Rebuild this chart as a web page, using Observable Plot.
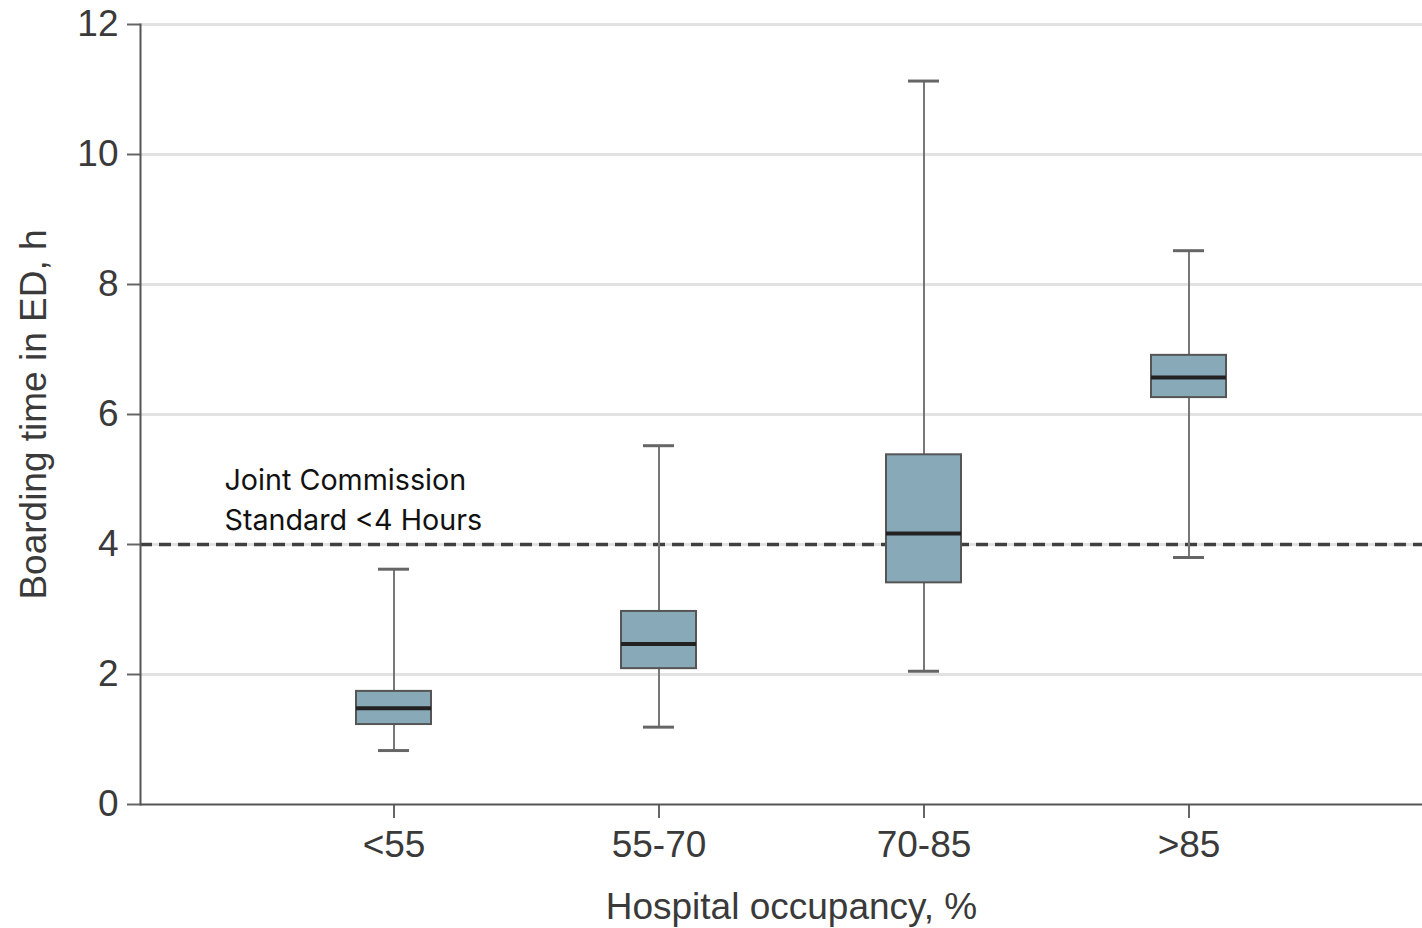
<!DOCTYPE html>
<html>
<head>
<meta charset="utf-8">
<script src="https://cdn.jsdelivr.net/npm/d3@7"></script>
<script src="https://cdn.jsdelivr.net/npm/@observablehq/plot@0.6"></script>
<style>
  html, body { margin: 0; padding: 0; background: #fff; }
  svg { display: block; }
</style>
</head>
<body>
<div id="chart"></div>
<script>
// Data
const categories = ["<55", "55-70", "70-85", ">85"];
const whiskerLow  = [0.83, 1.19, 2.05, 3.80];
const q1          = [1.23, 2.09, 3.41, 6.26];
const median      = [1.48, 2.47, 4.17, 6.57];
const q3          = [1.74, 2.97, 5.38, 6.91];
const whiskerHigh = [3.62, 5.52, 11.13, 8.52];
const yTicks = [0, 2, 4, 6, 8, 10, 12];
const standardHours = [4];
const annotation = ["Joint Commission\nStandard <4 Hours"];
const xTitle = ["Hospital occupancy, %"];
const yTitle = ["Boarding time in ED, h"];

const rows = categories.map((c, i) => ({
  cat: c, lo: whiskerLow[i], q1: q1[i], med: median[i], q3: q3[i], hi: whiskerHigh[i]
}));

const axisFont = "'Liberation Sans', Arial, sans-serif";
const textColor = "#3a3a3a";
const fs = 37;

const chart = Plot.plot({
  width: 1422,
  height: 928,
  marginLeft: 140,
  marginRight: 0,
  marginTop: 24,
  marginBottom: 124,
  style: { fontFamily: axisFont, color: textColor, background: "#fff" },
  x: { type: "band", domain: categories, range: [260.5, 1320.5], paddingInner: 0.717, paddingOuter: 0.3585, align: 0.5 },
  y: { domain: [0, 12] },
  marks: [
    // gridlines
    Plot.ruleY(yTicks.filter(d => d > 0), { stroke: "#e2e2e2", strokeWidth: 3 }),
    // standard line
    Plot.ruleY(standardHours, { stroke: "#404040", strokeWidth: 3.5, strokeDasharray: "12,7" }),
    // axes
    Plot.axisY({ ticks: yTicks, tickSize: 13, tickPadding: 9, fontSize: fs, label: null, stroke: "#666", strokeWidth: 2 }),
    Plot.axisX({ tickSize: 14, tickPadding: 12, fontSize: fs, label: null, stroke: "#666", strokeWidth: 2 }),
    Plot.frame({ anchor: "left", stroke: "#555", strokeWidth: 2 }),
    Plot.ruleY([0], { stroke: "#555", strokeWidth: 2 }),
    // whiskers
    Plot.ruleX(rows, { x: "cat", y1: "lo", y2: "hi", stroke: "#777", strokeWidth: 2 }),
    Plot.tickY(rows, { x: "cat", y: "lo", stroke: "#666", strokeWidth: 3, insetLeft: 22, insetRight: 22 }),
    Plot.tickY(rows, { x: "cat", y: "hi", stroke: "#666", strokeWidth: 3, insetLeft: 22, insetRight: 22 }),
    // boxes
    Plot.barY(rows, { x: "cat", y1: "q1", y2: "q3", fill: "#87a9b8", stroke: "#555", strokeWidth: 2 }),
    Plot.tickY(rows, { x: "cat", y: "med", stroke: "#222", strokeWidth: 4 }),
    // annotation
    Plot.text(annotation, {
      frameAnchor: "left", y: () => standardHours[0], dx: 84, dy: -15,
      textAnchor: "start", lineAnchor: "bottom", lineHeight: 1.37,
      fontSize: 28.7, fontFamily: "Inter, 'Open Sans', sans-serif", fill: "#111"
    }),
    // axis titles
    Plot.text(xTitle, { frameAnchor: "bottom", dx: 10, dy: 103, lineAnchor: "middle", fontSize: fs, fill: textColor }),
    Plot.text(yTitle, { frameAnchor: "left", dx: -106, rotate: -90, textAnchor: "middle", lineAnchor: "middle", fontSize: fs, fill: textColor })
  ]
});

document.getElementById("chart").appendChild(chart);
</script>
</body>
</html>
